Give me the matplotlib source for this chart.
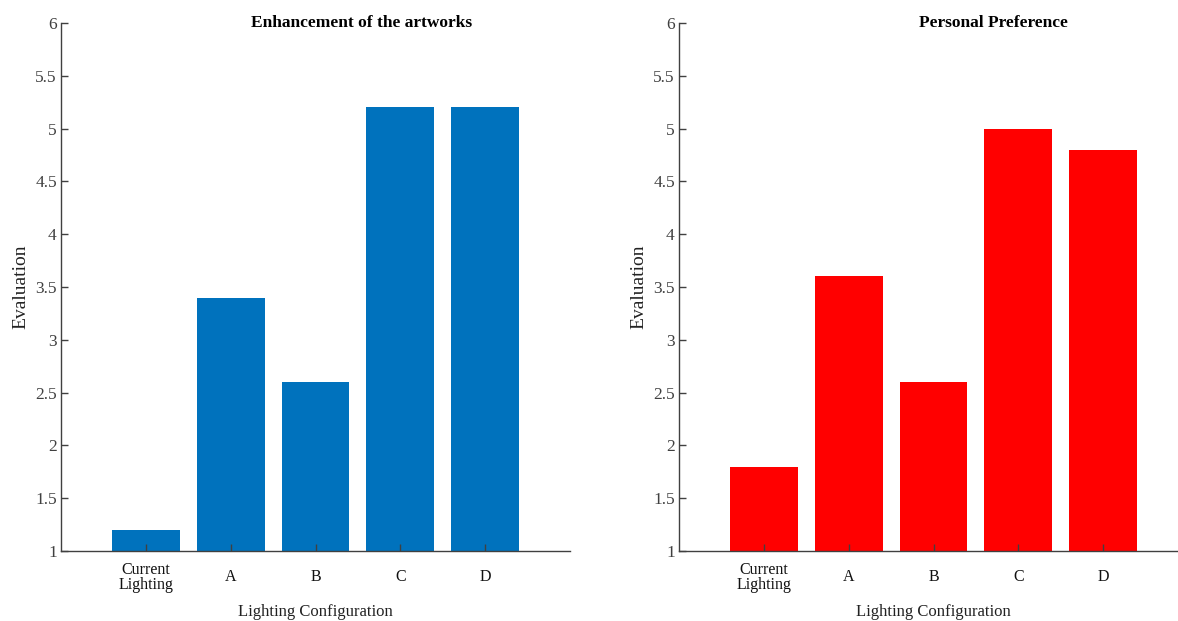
import matplotlib
matplotlib.use("Agg")
import matplotlib.pyplot as plt

categories = ["Current\nLighting", "A", "B", "C", "D"]
enhancement = [1.2, 3.4, 2.6, 5.2, 5.2]
preference = [1.8, 3.6, 2.6, 5.0, 4.8]
yticks = [1, 1.5, 2, 2.5, 3, 3.5, 4, 4.5, 5, 5.5, 6]
ytick_labels = ["1", "1.5", "2", "2.5", "3", "3.5", "4", "4.5", "5", "5.5", "6"]

plt.rcParams["font.family"] = ["Liberation Serif", "DejaVu Serif"]

AX_COLOR = "#404040"

fig = plt.figure(figsize=(11.78, 6.21), dpi=100)
ax1 = fig.add_axes([61 / 1178, 70 / 621, 509 / 1178, 528 / 621])
ax2 = fig.add_axes([679 / 1178, 70 / 621, 509 / 1178, 528 / 621])


def draw(ax, values, color, title, title_x):
    x = list(range(1, len(values) + 1))
    ax.bar(x, values, width=0.8, color=color, zorder=1)
    ax.set_xlim(0, 6)
    ax.set_ylim(1, 6)
    ax.set_yticks(yticks)
    ax.set_yticklabels(ytick_labels)
    ax.set_xticks(x)
    ax.set_xticklabels(categories, linespacing=0.9, color="#111111", va="center")
    ax.tick_params(axis="x", direction="in", length=5, pad=19, labelsize=11.5,
                   color=AX_COLOR, width=1)
    ax.tick_params(axis="y", direction="in", length=5, pad=3, labelsize=12.5,
                   color=AX_COLOR, labelcolor=AX_COLOR, width=1)
    for lbl in ax.get_xticklabels():
        lbl.set_va("center")
    for side in ["top", "right"]:
        ax.spines[side].set_visible(False)
    for side in ["left", "bottom"]:
        ax.spines[side].set_color(AX_COLOR)
        ax.spines[side].set_linewidth(1)
        ax.spines[side].set_zorder(3)
    ax.set_axisbelow(False)
    ax.set_xlabel("Lighting Configuration", fontsize=12, color="#222222", labelpad=8)
    ax.set_ylabel("Evaluation", fontsize=14, color="#222222", labelpad=4)
    ax.text(title_x, 0.992, title, transform=ax.transAxes, ha="center", va="baseline",
            fontsize=12.5, fontweight="bold", color="black")


draw(ax1, enhancement, "#0072BD", "Enhancement of the artworks", 0.59)
draw(ax2, preference, "#FF0000", "Personal Preference", 0.617)

fig.savefig("out.png", dpi=100)
